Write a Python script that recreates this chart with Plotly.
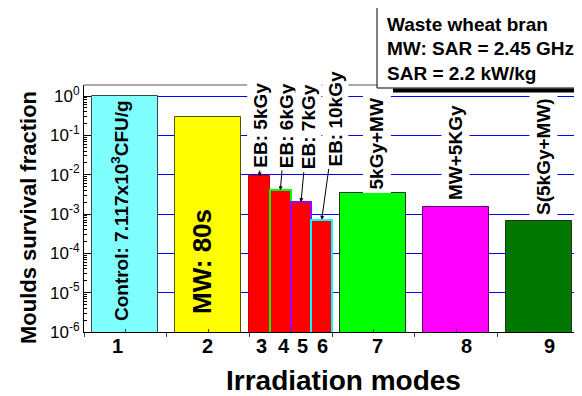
import plotly.graph_objects as go
import numpy as np

# ---------------- data ----------------
modes = ["1", "2", "3", "4", "5", "6", "7", "8", "9"]
survival = [1.0, 0.30, 0.0090, 0.0040, 0.0020, 0.00071, 0.0034, 0.00155, 0.00068]
bar_labels = ["Control: 7.117x10<sup>3</sup>CFU/g", "MW: 80s", "EB: 5kGy", "EB: 6kGy",
              "EB: 7kGy", "EB: 10kGy", "5kGy+MW", "MW+5KGy", "S(5kGy+MW)"]
y_tick_exponents = [-6, -5, -4, -3, -2, -1, 0]
legend_lines = ["Waste wheat bran", "MW: SAR = 2.45 GHz", "SAR = 2.2 kW/kg"]
x_title = "Irradiation modes"
y_title = "Moulds survival fraction"

# ---------------- layout / style ----------------
bar_x = [1, 2, 2.625, 2.875, 3.125, 3.375, 4, 5, 6]
bar_w = [0.8, 0.8, 0.25, 0.25, 0.25, 0.25, 0.8, 0.8, 0.8]
fill = ["#80FFFF", "#FFFF00", "#FF0000", "#FF0000", "#FF0000", "#FF0000",
        "#00FF00", "#FF00FF", "#007800"]
edge = ["#2F4F4F", "#555500", "#CC0000", "#00FF00", "#9900FF", "#00FFFF",
        "#223322", "#660066", "#223322"]
edge_w = [1, 1, 1, 2, 2, 2, 1, 1, 1]
tick_label_x = [0.911, 1.988, 2.653, 2.919, 3.149, 3.39, 4.056, 5.133, 6.125]

FONT = "Liberation Sans, Arial, sans-serif"
OFF = 8  # page body margin
W, H = 582 - OFF, 396 - OFF
L, T = 84 - OFF, 85 - OFF
PW, PH = 496, 247
R, B = W - L - PW, H - T - PH

fig = go.Figure()
fig.add_trace(go.Bar(
    x=bar_x, y=survival, width=bar_w,
    marker=dict(color=fill, line=dict(color=edge, width=edge_w)),
    showlegend=False, hoverinfo="skip",
))

minor_vals = [k * 10.0 ** e for e in range(-6, 0) for k in range(2, 10)]

fig.update_layout(
    width=W, height=H,
    margin=dict(l=L, r=R, t=T, b=B, pad=0),
    paper_bgcolor="white", plot_bgcolor="white",
    font=dict(family=FONT, color="black"),
    bargap=0,
    xaxis=dict(range=[0.5, 6.5], showgrid=False, zeroline=False,
               showline=True, linecolor="black", linewidth=1,
               tickvals=[0.5, 1.5, 2.5, 3.5, 4.5, 5.5, 6.5],
               ticktext=[""] * 7, ticks="outside", ticklen=4, tickcolor="#444",
               minor=dict(tickvals=[1, 2, 3, 4, 5, 6], ticks="inside",
                          ticklen=3, tickcolor="#444", showgrid=False)),
    yaxis=dict(type="log", range=[-6, 0.28], zeroline=False,
               showline=True, linecolor="black", linewidth=1,
               tickvals=[10.0 ** e for e in y_tick_exponents],
               ticktext=["10<sup>%d</sup>" % e for e in y_tick_exponents],
               ticks="inside", ticklen=7, tickcolor="black",
               tickfont=dict(size=17, color="black", family=FONT),
               showgrid=True, gridcolor="#0000FF", gridwidth=1,
               minor=dict(tickvals=minor_vals, ticks="inside", ticklen=3,
                          tickcolor="black", showgrid=False)),
)

ann = []
bold = "bold"
ann.append(dict(x=0.935, y=-2.90, xref="x", yref="y", text=bar_labels[0],
                textangle=-90, showarrow=False, xanchor="center", yanchor="middle",
                font=dict(size=19, weight=bold, family=FONT)))
ann.append(dict(x=1.927, y=-4.195, xref="x", yref="y", text=bar_labels[1],
                textangle=-90, showarrow=False, xanchor="center", yanchor="middle",
                font=dict(size=26, weight=bold, family=FONT)))
eb_offsets = [(0.5, -51), (5.5, -65), (7, -75), (14, -101)]
for i, (ax, ay) in zip(range(2, 6), eb_offsets):
    ann.append(dict(x=bar_x[i], y=np.log10(survival[i]), xref="x", yref="y",
                    text=bar_labels[i], textangle=-90, showarrow=True,
                    ax=ax, ay=ay, arrowhead=2, arrowsize=0.8, arrowwidth=1,
                    arrowcolor="black", bgcolor="white", borderpad=2,
                    font=dict(size=19, weight=bold, family=FONT)))
above_pos = [(4.044, -1.208), (4.988, -1.449), (6.052, -1.526)]
for i, (xx, yy) in zip(range(6, 9), above_pos):
    ann.append(dict(x=xx, y=yy, xref="x", yref="y", text=bar_labels[i],
                    textangle=-90, showarrow=False, bgcolor="white", borderpad=3,
                    xanchor="center", yanchor="middle",
                    font=dict(size=19, weight=bold, family=FONT)))
for t, xx in zip(modes, tick_label_x):
    ann.append(dict(x=xx, y=-0.057, xref="x", yref="paper", text=t,
                    showarrow=False, xanchor="center", yanchor="middle",
                    font=dict(size=20, weight=bold, family=FONT)))
ann.append(dict(x=0.524, y=-0.198, xref="paper", yref="paper", text=x_title,
                showarrow=False, xanchor="center", yanchor="middle",
                font=dict(size=28, weight=bold, family=FONT)))
ann.append(dict(x=(28 - 84) / 496.0, y=0.4615, xref="paper", yref="paper",
                text=y_title, textangle=-90, showarrow=False,
                xanchor="center", yanchor="middle",
                font=dict(size=22, weight=bold, family=FONT)))


def px_x(p):
    return (p - 84) / float(PW)


def px_y(p):
    return (332 - p) / float(PH)


for line, py in zip(legend_lines, [25, 49, 73]):
    ann.append(dict(x=px_x(385), y=px_y(py), xref="paper", yref="paper",
                    text=line, showarrow=False, xanchor="left", yanchor="middle",
                    font=dict(size=19, weight=bold, family=FONT)))
fig.update_layout(annotations=ann)

shapes = [
    dict(type="line", xref="paper", yref="paper", x0=0, x1=1, y0=1, y1=1,
         line=dict(color="#555555", width=1), layer="above"),
    dict(type="line", xref="paper", yref="paper", x0=1, x1=1, y0=0, y1=1,
         line=dict(color="#888888", width=1), layer="above"),
    dict(type="rect", xref="paper", yref="paper", x0=px_x(377), x1=px_x(590),
         y0=px_y(88), y1=px_y(7), fillcolor="white",
         line=dict(color="black", width=1), layer="above"),
    dict(type="line", xref="paper", yref="paper", x0=px_x(393), x1=px_x(590),
         y0=px_y(90.5), y1=px_y(90.5), line=dict(color="black", width=4),
         layer="above"),
]
fig.update_layout(shapes=shapes)

fig.write_html("out.html")
